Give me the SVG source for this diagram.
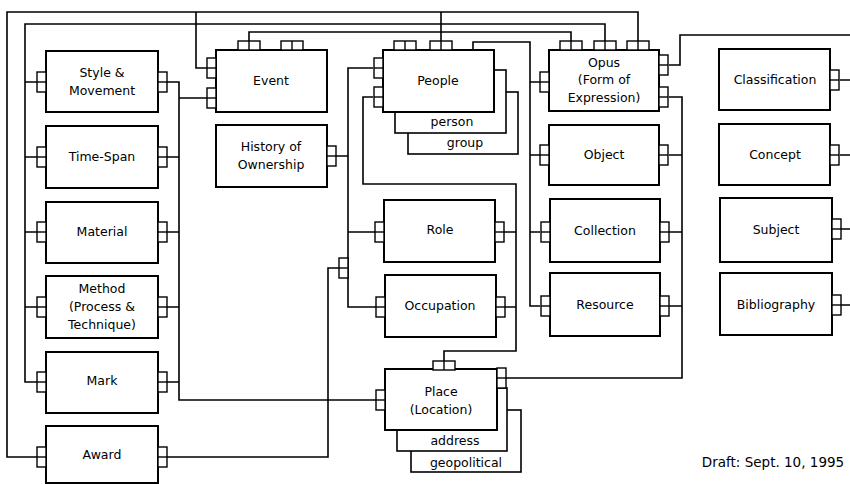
<svg xmlns="http://www.w3.org/2000/svg" xmlns:xlink="http://www.w3.org/1999/xlink" width="850" height="484" viewBox="0 0 850 484">
<style>
.box{fill:#fff;stroke:#000;stroke-width:2}
.sub{fill:#fff;stroke:#000;stroke-width:1.6}
.c{fill:none;stroke:#000;stroke-width:1.6}
.p{fill:#fff;stroke:#000;stroke-width:1.4}
text{font-family:"DejaVu Sans","Liberation Sans",sans-serif;font-size:12.5px;fill:#000;text-anchor:middle;dominant-baseline:middle}
</style>
<defs>
<g id="vp"><rect class="p" x="0" y="0" width="9" height="20"/><line class="p" x1="0" y1="10" x2="9" y2="10"/></g>
<g id="hp"><rect class="p" x="0" y="0" width="22" height="9"/><line class="p" x1="11" y1="0" x2="11" y2="9"/></g>
</defs>
<rect width="850" height="484" fill="#fff"/>
<g id="connectors">
<path class="c" d="M37,457 H7 V12 H638 V41"/>
<path class="c" d="M605,41 V24 H25 V382 H37 M25,82 H37 M25,157 H37 M25,232 H37 M25,307 H37"/>
<path class="c" d="M196,12 V68 H207"/>
<path class="c" d="M441,12 V41"/>
<path class="c" d="M249,41 V32 H571 V41"/>
<path class="c" d="M167,82 H179 V400 H377 M167,157 H179 M167,232 H179 M167,307 H179 M167,382 H179 M179,98 H207"/>
<path class="c" d="M373,68 H348 V307 H376 M336,156 H348 M348,232 H375"/>
<path class="c" d="M339,268 H328 V457 H167"/>
<path class="c" d="M373,97 H363 V184 H516 V351 H444 V361 M504,232 H516 M505,307 H516"/>
<path class="c" d="M473,50 V42 H530 V306 H540 M530,82 H540 M530,155 H540 M530,232 H540"/>
<path class="c" d="M669,65 H680 V35 H850"/>
<path class="c" d="M669,97 H682 V378 H505 M669,155 H682 M669,232 H682 M669,306 H682"/>
<path class="c" d="M840,80 H850 M840,155 H850 M840,229 H850 M840,305 H850"/>
<use xlink:href="#vp" x="339" y="258"/>
</g>
<g id="style-movement"><rect class="box" x="46" y="51" width="112" height="61"/><use xlink:href="#vp" x="37" y="72"/><use xlink:href="#vp" x="158" y="72"/><text x="102" y="73">Style &amp;</text><text x="102" y="91">Movement</text></g>
<g id="time-span"><rect class="box" x="46" y="126" width="112" height="62"/><use xlink:href="#vp" x="37" y="147"/><use xlink:href="#vp" x="158" y="147"/><text x="102" y="157">Time-Span</text></g>
<g id="material"><rect class="box" x="46" y="202" width="112" height="61"/><use xlink:href="#vp" x="37" y="222"/><use xlink:href="#vp" x="158" y="222"/><text x="102" y="232">Material</text></g>
<g id="method"><rect class="box" x="46" y="276" width="112" height="62"/><use xlink:href="#vp" x="37" y="297"/><use xlink:href="#vp" x="158" y="297"/><text x="102" y="289">Method</text><text x="102" y="307">(Process &amp;</text><text x="102" y="325">Technique)</text></g>
<g id="mark"><rect class="box" x="46" y="352" width="112" height="61"/><use xlink:href="#vp" x="37" y="372"/><use xlink:href="#vp" x="158" y="372"/><text x="102" y="381">Mark</text></g>
<g id="award"><rect class="box" x="46" y="426" width="112" height="57"/><use xlink:href="#vp" x="37" y="447"/><use xlink:href="#vp" x="158" y="447"/><text x="102" y="455">Award</text></g>
<g id="event"><rect class="box" x="216" y="50" width="111" height="62"/><use xlink:href="#vp" x="207" y="58"/><use xlink:href="#vp" x="207" y="88"/><use xlink:href="#hp" x="238" y="41"/><use xlink:href="#hp" x="281" y="41"/><text x="271" y="81">Event</text></g>
<g id="history-of-ownership"><rect class="box" x="216" y="125" width="111" height="62"/><use xlink:href="#vp" x="327" y="146"/><text x="271" y="147">History of</text><text x="271" y="165">Ownership</text></g>
<g id="people"><rect class="sub" x="408" y="92" width="110" height="62"/><rect class="sub" x="395" y="70" width="111" height="63"/><text x="465" y="143">group</text><text x="452" y="122">person</text><rect class="box" x="383" y="50" width="111" height="62"/><use xlink:href="#vp" x="374" y="58"/><use xlink:href="#vp" x="374" y="87"/><use xlink:href="#hp" x="394" y="41"/><use xlink:href="#hp" x="430" y="41"/><text x="438" y="81">People</text></g>
<g id="opus"><rect class="box" x="549" y="50" width="110" height="61"/><use xlink:href="#vp" x="540" y="72"/><use xlink:href="#vp" x="659" y="55"/><use xlink:href="#vp" x="659" y="87"/><use xlink:href="#hp" x="560" y="41"/><use xlink:href="#hp" x="594" y="41"/><use xlink:href="#hp" x="627" y="41"/><text x="604" y="63">Opus</text><text x="604" y="80">(Form of</text><text x="604" y="98">Expression)</text></g>
<g id="object"><rect class="box" x="549" y="125" width="110" height="60"/><use xlink:href="#vp" x="540" y="145"/><use xlink:href="#vp" x="659" y="145"/><text x="604" y="155">Object</text></g>
<g id="collection"><rect class="box" x="550" y="199" width="110" height="63"/><use xlink:href="#vp" x="541" y="222"/><use xlink:href="#vp" x="660" y="222"/><text x="605" y="231">Collection</text></g>
<g id="resource"><rect class="box" x="550" y="273" width="110" height="63"/><use xlink:href="#vp" x="541" y="296"/><use xlink:href="#vp" x="660" y="296"/><text x="605" y="305">Resource</text></g>
<g id="role"><rect class="box" x="384" y="200" width="111" height="62"/><use xlink:href="#vp" x="375" y="222"/><use xlink:href="#vp" x="495" y="222"/><text x="440" y="230">Role</text></g>
<g id="occupation"><rect class="box" x="385" y="275" width="111" height="62"/><use xlink:href="#vp" x="376" y="297"/><use xlink:href="#vp" x="496" y="297"/><text x="440" y="306">Occupation</text></g>
<g id="place"><rect class="sub" x="411" y="410" width="110" height="62"/><rect class="sub" x="397" y="388" width="110" height="63"/><text x="466" y="463">geopolitical</text><text x="455" y="441">address</text><rect class="box" x="385" y="369" width="112" height="61"/><use xlink:href="#vp" x="376" y="390"/><use xlink:href="#vp" x="497" y="368"/><use xlink:href="#hp" x="433" y="361"/><text x="441" y="392">Place</text><text x="441" y="410">(Location)</text></g>
<g id="classification"><rect class="box" x="719" y="49" width="111" height="61"/><use xlink:href="#vp" x="830" y="70"/><text x="775" y="80">Classification</text></g>
<g id="concept"><rect class="box" x="719" y="124" width="111" height="61"/><use xlink:href="#vp" x="830" y="145"/><text x="775" y="155">Concept</text></g>
<g id="subject"><rect class="box" x="720" y="198" width="112" height="64"/><use xlink:href="#vp" x="832" y="219"/><text x="776" y="230">Subject</text></g>
<g id="bibliography"><rect class="box" x="720" y="273" width="112" height="62"/><use xlink:href="#vp" x="832" y="295"/><text x="776" y="305">Bibliography</text></g>
<text x="773" y="463" style="font-size:13.5px">Draft: Sept. 10, 1995</text>
</svg>
